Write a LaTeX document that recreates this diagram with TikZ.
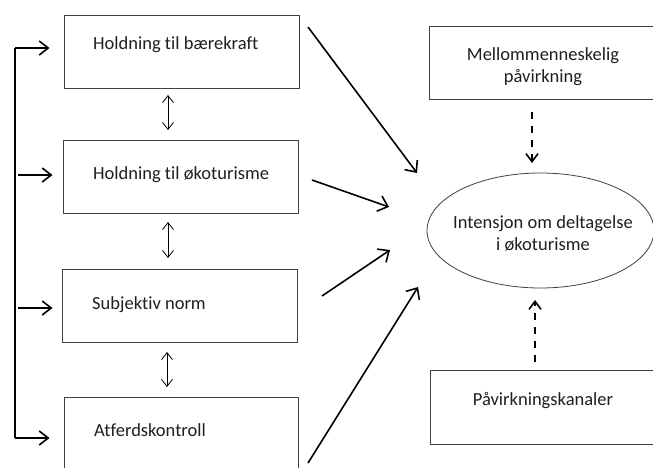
\documentclass[tikz,border=0pt]{standalone}
\usepackage{fontspec}
\setmainfont[Ligatures={NoCommon}]{Carlito}
\usetikzlibrary{arrows.meta,shapes.geometric}
\begin{document}
\begin{tikzpicture}[x=1pt,y=-1pt,
  box/.style={draw=black!75,line width=1pt,rectangle,inner sep=0pt},
  lbl/.style={font=\fontsize{18.5}{22}\selectfont,text=black!88,inner sep=0pt},
  main/.style={line width=1.6pt,-{Straight Barb[length=9pt,width=16pt,line width=1.6pt]}},
  side/.style={line width=1.6pt,-{Straight Barb[length=9pt,width=14pt,line width=1.6pt]}},
  both/.style={line width=0.8pt,{Straight Barb[length=7pt,width=11pt,line width=0.8pt]}-{Straight Barb[length=7pt,width=11pt,line width=0.8pt]}},
  dashedarrow/.style={line width=1.6pt,dash pattern=on 7pt off 7pt,-{Straight Barb[length=8pt,width=12pt,line width=1.6pt]}}]
\useasboundingbox (0,0) rectangle (653,467);
\clip (0,0) rectangle (653,467);
\fill[white] (0,0) rectangle (653,467);
% left boxes
\node[box,minimum width=235pt,minimum height=73pt] (b1) at (181.5,51.5) {};
\node[box,minimum width=235pt,minimum height=73pt] (b2) at (180.5,176.5) {};
\node[box,minimum width=235pt,minimum height=73pt] (b3) at (179.5,305.5) {};
\node[box,minimum width=234pt,minimum height=80pt] (b4) at (181,437) {};
\node[lbl,anchor=west] (t1) at (93,45) {Holdning til bærekraft};
\node[lbl,anchor=west] (t2) at (93,175) {Holdning til økoturisme};
\node[lbl,anchor=west] (t3) at (92,305) {Subjektiv norm};
\node[lbl,anchor=west] (t4) at (94,430) {Atferdskontroll};
% right
\node[box,minimum width=225pt,minimum height=73pt] (m) at (541.5,62.5) {};
\node[lbl,align=center] (mt) at (543,67) {Mellommenneskelig\\påvirkning};
\node[draw=black!75,line width=0.8pt,ellipse,minimum width=227pt,minimum height=115pt,inner sep=0pt] (e) at (540.5,230.5) {};
\node[lbl,align=center] (et) at (543,233) {Intensjon om deltagelse\\i økoturisme};
\node[box,minimum width=224pt,minimum height=74pt] (p) at (542,407) {};
\node[lbl] (pt) at (543,401) {Påvirkningskanaler};
% bracket
\coordinate (k1) at (15,48);
\coordinate (k4) at (15,438);
\draw[line width=2pt] (k1) -- (k4);
\draw[side,shorten >=14pt] (k1) -- (b1.west |- k1);
\draw[side,shorten >=10pt] (18,175) -- (b2.west |- 0,175);
\draw[side,shorten >=9pt] (18,308) -- (b3.west |- 0,308);
\draw[side,shorten >=14pt] (k4) -- (b4.west |- k4);
% double arrows
\draw[both] (168,95) -- (168,130);
\draw[both] (168,222) -- (168,258);
\draw[both] (167,352) -- (167,387);
% main arrows
\coordinate (s1) at (308,27);  \coordinate (e1) at (417,173);
\coordinate (s2) at (312,180); \coordinate (e2) at (389,207);
\coordinate (s3) at (322,296); \coordinate (e3) at (390,250);
\coordinate (s4) at (308,463); \coordinate (e4) at (418,287);
\draw[main] (s1) -- (e1);
\draw[main] (s2) -- (e2);
\draw[main] (s3) -- (e3);
\draw[main] (s4) -- (e4);
% dashed
\draw[dashedarrow] (532,112) -- (532,163);
\draw[dashedarrow] (535,362) -- (535,300);
\end{tikzpicture}
\end{document}
